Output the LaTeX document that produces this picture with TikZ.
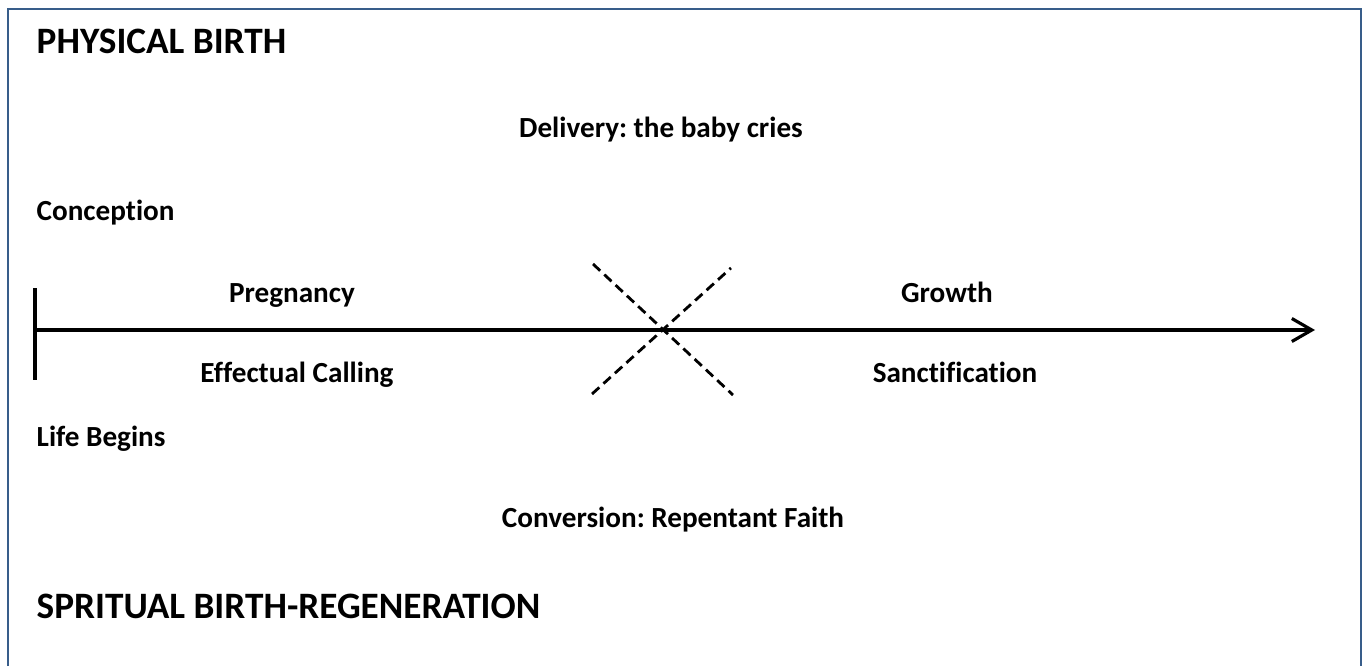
\documentclass[tikz,border=0pt]{standalone}
\usepackage{fontspec}
\setmainfont{Carlito}[Ligatures=NoCommon]
\usetikzlibrary{arrows.meta}
\frenchspacing
\definecolor{frameblue}{RGB}{56,93,138}
\tikzset{
	lbl/.style={font=\bfseries\fontsize{8.3}{10}\selectfont, inner sep=0pt},
	title/.style={font=\bfseries\fontsize{10.6}{12}\selectfont, inner sep=0pt},
	crossline/.style={line width=0.8pt, dash pattern=on 2.8pt off 1.6pt}
}
\begin{document}
\begin{tikzpicture}
	\useasboundingbox (0,0) rectangle (13.68,6.66);
	
	%The frame
	\draw[frameblue, line width=0.7pt] (0.08,0) -- (0.08,6.57) -- (13.61,6.57) -- (13.61,0);
	
	%The time line
	\coordinate (start) at (0.35,3.36);
	\coordinate (tickTop) at (0.35,3.78);
	\coordinate (tickBot) at (0.35,2.86);
	\coordinate (end) at (13.15,3.36);
	\draw[line width=0.9pt] (tickTop) -- (tickBot);
	\draw[line width=0.9pt, -{Straight Barb[length=2mm,width=2.3mm,line width=0.9pt]}] (start) -- (end);
	
	%The cross at birth
	\coordinate (crossA) at (5.93,4.02);
	\coordinate (crossB) at (7.33,2.71);
	\coordinate (crossC) at (5.92,2.72);
	\coordinate (crossD) at (7.31,3.98);
	\draw[crossline] (crossA) -- (crossB);
	\draw[crossline] (crossC) -- (crossD);
	
	%Labels
	\node[title, anchor=base west] (physical) at (0.36,6.13) {PHYSICAL BIRTH};
	\node[lbl, anchor=base] (delivery) at (6.61,5.29) {Delivery: the baby cries};
	\node[lbl, anchor=base west] (conception) at (0.36,4.46) {Conception};
	\node[lbl, anchor=base] (pregnancy) at (2.92,3.64) {Pregnancy};
	\node[lbl, anchor=base] (growth) at (9.47,3.64) {Growth};
	\node[lbl, anchor=base] (calling) at (2.97,2.84) {Effectual Calling};
	\node[lbl, anchor=base] (sanctification) at (9.55,2.84) {Sanctification};
	\node[lbl, anchor=base west] (life) at (0.36,2.20) {Life Begins};
	\node[lbl, anchor=base] (conversion) at (6.73,1.39) {Conversion: Repentant Faith};
	\node[title, anchor=base west] (spiritual) at (0.36,0.48) {SPRITUAL BIRTH-REGENERATION};

\end{tikzpicture}
\end{document}
